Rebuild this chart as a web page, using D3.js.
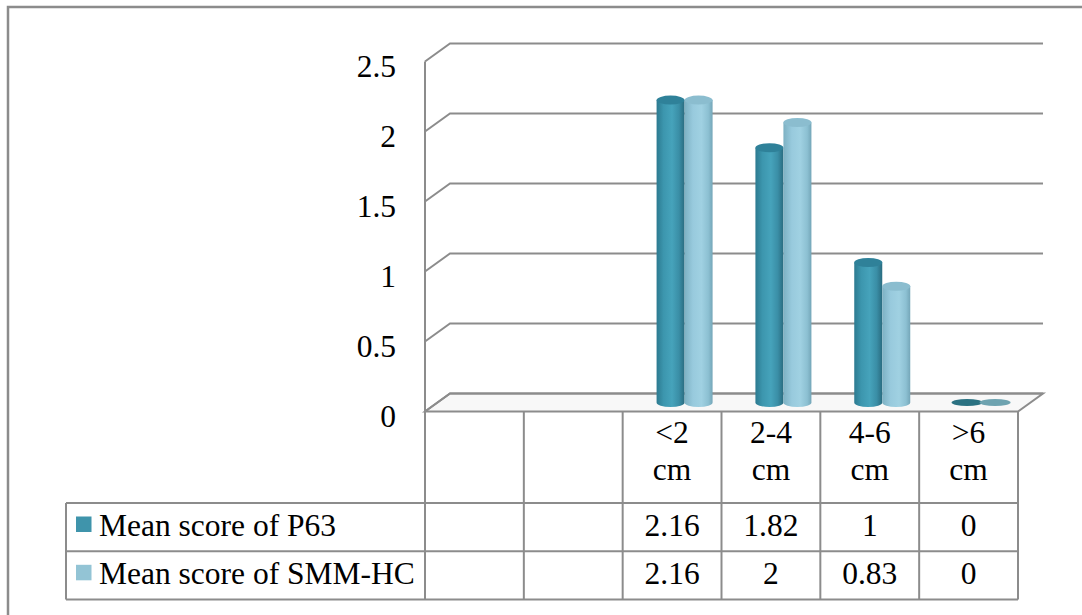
<!DOCTYPE html>
<html>
<head>
<meta charset="utf-8">
<script src="https://cdn.jsdelivr.net/npm/d3@7/dist/d3.min.js"></script>
<style>
  html, body { margin: 0; padding: 0; background: #fff; }
</style>
</head>
<body>
<svg id="chart" width="1082" height="615"></svg>
<script>
// Category slots on the x axis (the first two are unused slots in the table)
const categories = ["", "", "<2 cm", "2-4 cm", "4-6 cm", ">6 cm"];
const seriesNames = ["Mean score of P63", "Mean score of SMM-HC"];
const p63Values = [null, null, 2.16, 1.82, 1, 0];
const smmhcValues = [null, null, 2.16, 2, 0.83, 0];
const yTicks = [0, 0.5, 1, 1.5, 2, 2.5];
const yTickLabels = ["0", "0.5", "1", "1.5", "2", "2.5"];

const series = [
  { name: seriesNames[0], values: p63Values, grad: "gDark", top: "#2f8199", flat: "#2b7282", swatch: "#3f94ab" },
  { name: seriesNames[1], values: smmhcValues, grad: "gLight", top: "#8bbdcf", flat: "#6ea3b0", swatch: "#93c4d5" }
];

const FONT = "'Liberation Serif'";
const fontSize = 31.5;
const svg = d3.select("#chart");
const grid = "#8c8c8c";

// Helper: text with the chart font
function label(sel) {
  return sel.append("text").attr("font-family", FONT).attr("font-size", fontSize).attr("fill", "#000");
}

// Plot geometry: front plane of the 3-D box and its depth offset
const x0 = 425, x1 = 1018;
const depth = { dx: 25, dy: -18 };

const x = d3.scaleBand().domain(d3.range(categories.length)).range([x0, x1]);
const yFront = d3.scaleLinear().domain([0, 2.5]).range([411.5, 61.5]);

// Gradients giving the cylinders their rounded look
const defs = svg.append("defs");
function grad(id, stops) {
  const g = defs.append("linearGradient").attr("id", id)
    .attr("x1", "0%").attr("x2", "100%").attr("y1", "0%").attr("y2", "0%");
  stops.forEach(s => g.append("stop").attr("offset", s[0]).attr("stop-color", s[1]));
}
grad("gDark", [["0%", "#2c7a90"], ["25%", "#3c96ae"], ["55%", "#46a3bb"], ["80%", "#3a8ea6"], ["100%", "#2a6c80"]]);
grad("gLight", [["0%", "#7db1c3"], ["30%", "#98cadd"], ["60%", "#a0d1e2"], ["85%", "#8cc0d2"], ["100%", "#74a6b8"]]);

// Outer chart-area border
svg.append("rect")
  .attr("x", 8).attr("y", 7).attr("width", 1200).attr("height", 700)
  .attr("fill", "none").attr("stroke", grid).attr("stroke-width", 2.5);

// Floor of the box
svg.append("path")
  .attr("d", `M${x0},${yFront(0)} L${x0 + depth.dx},${yFront(0) + depth.dy} L${x1 + depth.dx},${yFront(0) + depth.dy} L${x1},${yFront(0)} Z`)
  .attr("fill", "#f8f8f8").attr("stroke", grid).attr("stroke-width", 2);

// Gridlines: short diagonal on the side wall, then across the back wall
svg.append("g").selectAll("path").data(yTicks).join("path")
  .attr("d", t => {
    const yf = yFront(t), yb = yf + depth.dy;
    return `M${x0},${yf} L${x0 + depth.dx},${yb} L${x1 + depth.dx},${yb}`;
  })
  .attr("fill", "none").attr("stroke", grid).attr("stroke-width", 2);

// Front vertical axis line, continuing down through the data table
const tableTop = yFront(0);
const rowH = [91.5, 48.3, 48.3];
const rowY = [tableTop, tableTop + rowH[0], tableTop + rowH[0] + rowH[1], tableTop + rowH[0] + rowH[1] + rowH[2]];
svg.append("line")
  .attr("x1", x0).attr("x2", x0).attr("y1", yFront(2.5)).attr("y2", rowY[3])
  .attr("stroke", grid).attr("stroke-width", 2);

// Y tick labels
const tickG = svg.append("g");
yTicks.forEach((t, i) => {
  label(tickG).attr("x", 396).attr("y", yFront(t) + 15)
    .attr("text-anchor", "end").text(yTickLabels[i]);
});

// Cylinders, placed at mid depth
const mid = { dx: depth.dx / 2, dy: depth.dy / 2 };
const barW = 28, ry = 4.5;
const barsG = svg.append("g");
series.forEach((s, si) => {
  s.values.forEach((v, ci) => {
    if (v === null) return;
    const cx = x(ci) + x.bandwidth() / 2 + mid.dx + (si === 0 ? -barW / 2 : barW / 2);
    const yb = yFront(0) + mid.dy;
    const yt = yFront(v) + mid.dy;
    const rx = barW / 2;
    const g = barsG.append("g");
    if (v > 0) {
      g.append("path")
        .attr("d", `M${cx - rx},${yt} L${cx - rx},${yb} A${rx},${ry} 0 0 0 ${cx + rx},${yb} L${cx + rx},${yt} Z`)
        .attr("fill", `url(#${s.grad})`);
      g.append("ellipse")
        .attr("cx", cx).attr("cy", yt).attr("rx", rx).attr("ry", ry)
        .attr("fill", s.top);
    } else {
      g.append("ellipse")
        .attr("cx", cx).attr("cy", yt).attr("rx", rx + 1.5).attr("ry", 3.5)
        .attr("fill", s.flat);
    }
  });
});

// Data table
const tableG = svg.append("g");
const legendX = 66;
[1, 2, 3].forEach(r => {
  tableG.append("line").attr("x1", legendX).attr("x2", x1).attr("y1", rowY[r]).attr("y2", rowY[r]);
});
// legend column left edge
tableG.append("line").attr("x1", legendX).attr("x2", legendX).attr("y1", rowY[1]).attr("y2", rowY[3]);
// category column separators
tableG.selectAll("line.col").data(d3.range(1, categories.length + 1)).join("line")
  .attr("class", "col")
  .attr("x1", i => x0 + i * x.step()).attr("x2", i => x0 + i * x.step())
  .attr("y1", rowY[0]).attr("y2", rowY[3]);
tableG.selectAll("line").attr("stroke", grid).attr("stroke-width", 2);

// category header labels (wrapped on two lines)
categories.forEach((c, ci) => {
  if (!c) return;
  const parts = c.split(" ");
  const cx = x(ci) + x.bandwidth() / 2;
  const t = label(tableG).attr("text-anchor", "middle");
  t.append("tspan").attr("x", cx).attr("y", rowY[0] + 31).text(parts[0]);
  t.append("tspan").attr("x", cx).attr("y", rowY[0] + 68).text(parts[1]);
});

// series rows: legend key, name, values
series.forEach((s, si) => {
  const top = rowY[si + 1];
  tableG.append("rect")
    .attr("x", 76).attr("y", top + 13.5).attr("width", 15.5).attr("height", 15.5)
    .attr("fill", s.swatch);
  label(tableG).attr("x", 99).attr("y", top + 32.5).text(s.name);
  s.values.forEach((v, ci) => {
    if (v === null) return;
    label(tableG)
      .attr("x", x(ci) + x.bandwidth() / 2).attr("y", top + 32.5)
      .attr("text-anchor", "middle")
      .text(String(v));
  });
});
</script>
</body>
</html>
